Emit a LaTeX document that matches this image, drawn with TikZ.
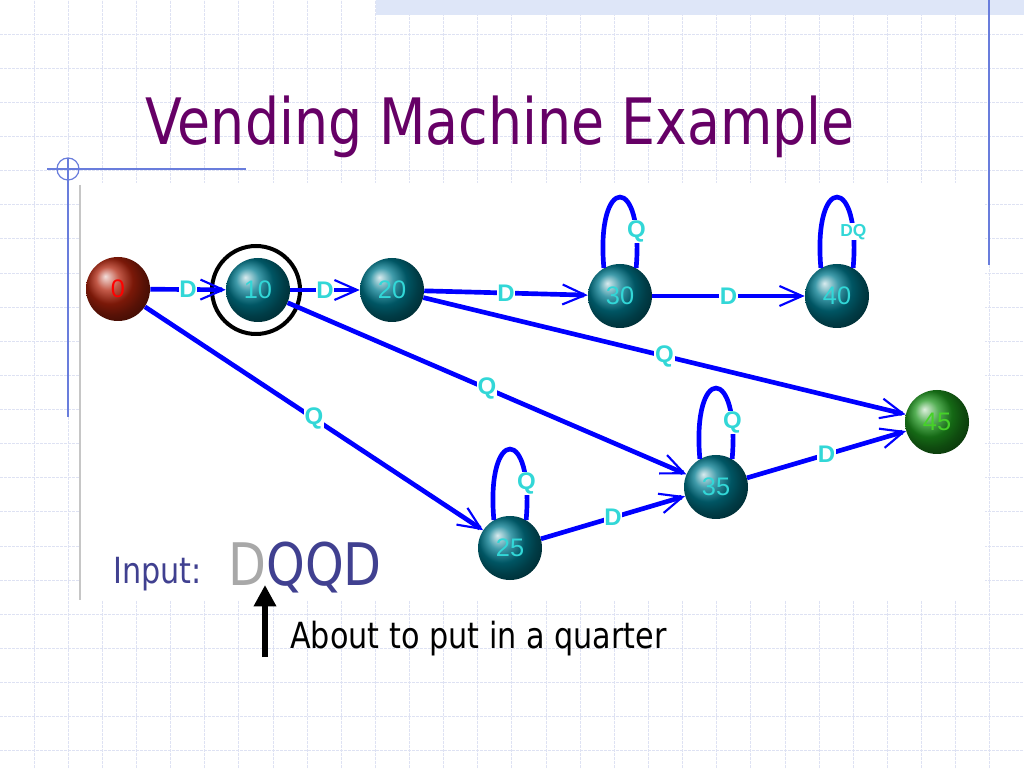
\documentclass[tikz,border=0pt]{standalone}
\usepackage{fontspec}
\setmainfont{DejaVu Sans}
\newfontfamily\tahoma[FakeStretch=0.84]{DejaVu Sans}
\newfontfamily\arialfont{Liberation Sans}
\usetikzlibrary{arrows.meta}
\definecolor{titlepurple}{RGB}{102,0,102}
\definecolor{inkblue}{RGB}{64,64,144}
\definecolor{inkgray}{RGB}{168,168,168}
\definecolor{gridline}{RGB}{222,226,243}
\definecolor{bandblue}{RGB}{222,230,248}
\definecolor{decoblue}{RGB}{105,125,220}
\definecolor{labelcyan}{RGB}{50,215,215}
\definecolor{tealball}{RGB}{0,122,142}
\definecolor{redball}{RGB}{175,35,12}
\definecolor{greenball}{RGB}{30,150,30}
\definecolor{greentext}{RGB}{70,210,40}

\begin{document}
\begin{tikzpicture}[x=0.75pt, y=0.75pt,
                    sphere/.style={circle, minimum size=48pt, inner sep=0pt, shading=ball, ball color=tealball, text=labelcyan, font=\arialfont\fontsize{19}{19}\selectfont},
                    coin/.style={draw=blue, line width=3.5pt, -{Straight Barb[length=17pt, width=15pt, line width=1.6pt]}},
                    selfloop/.style={draw=blue, line width=3.5pt},
                    lbl/.style={fill=white, inner sep=0.6pt, text=labelcyan, font=\arialfont\bfseries\fontsize{18}{18}\selectfont},
                    gridrule/.style={draw=gridline, line width=0.75pt, dash pattern=on 2pt off 1pt},
                    caption/.style={anchor=base west, inner sep=0pt}
                    ]
    \useasboundingbox (0,0) rectangle (1024,768);
    \fill[white] (0,0) rectangle (1024,768);
    \foreach \k in {1,...,29}
        \draw[gridrule] (34.13*\k,0) -- (34.13*\k,768);
    \foreach \k in {1,...,22}
        \draw[gridrule] (0,768-34.13*\k) -- (1024,768-34.13*\k);

    \fill[white] (80,168) rectangle (985,585);
    \fill[bandblue] (376,753) rectangle (1024,768);
    \draw[decoblue, line width=0.9pt] (989,768) -- (989,503);
    \draw[decoblue, line width=0.9pt] (47,599) -- (246,599);
    \draw[decoblue, line width=0.9pt] (68,610) -- (68,351);
    \draw[decoblue, line width=0.9pt] (68,599) circle (11);
    \draw[gray!45, line width=1.5pt] (80,583) -- (80,168);

    \node[caption, text=titlepurple, font=\tahoma\fontsize{48}{48}\selectfont] (title) at (145,623) {Vending Machine Example};

    \node[sphere, ball color=redball, text=red] (S0) at (118,479) {0};
    \node[sphere] (S10) at (258,478) {10};
    \node[sphere] (S20) at (392,478) {20};
    \node[sphere] (S30) at (620,472) {30};
    \node[sphere] (S40) at (837,472) {40};
    \node[sphere] (S25) at (510,220) {25};
    \node[sphere] (S35) at (716,281) {35};
    \node[sphere, ball color=greenball, text=greentext] (S45) at (937,346) {45};

    \node[draw, circle, line width=3pt, minimum size=66pt, inner sep=0pt] (ring) at (256,478) {};

    \draw[coin] (S0) -- node[lbl]{D} (S10);
    \draw[coin] (S10) -- node[lbl]{D} (S20);
    \draw[coin] (S20) -- node[lbl]{D} (S30);
    \draw[coin] (S30) -- node[lbl]{D} (S40);
    \draw[coin] (S0) -- node[lbl]{Q} (S25);
    \draw[coin] (S10) -- node[lbl]{Q} (S35);
    \draw[coin] (S20) -- node[lbl]{Q} (S45);
    \draw[coin] (S25) -- node[lbl]{D} (S35);
    \draw[coin] (S35) -- node[lbl]{D} (S45);

    \draw[selfloop] (S30.120) .. controls +(95:95) and +(85:95) .. node[lbl, pos=0.85]{Q} (S30.60);
    \draw[selfloop] (S40.120) .. controls +(95:95) and +(85:95) .. node[lbl, pos=0.85, font=\arialfont\bfseries\fontsize{13}{13}\selectfont]{DQ} (S40.60);
    \draw[selfloop] (S35.120) .. controls +(95:95) and +(85:95) .. node[lbl, pos=0.85]{Q} (S35.60);
    \draw[selfloop] (S25.120) .. controls +(95:95) and +(85:95) .. node[lbl, pos=0.85]{Q} (S25.60);

    \node[caption, text=inkblue, font=\tahoma\fontsize{27}{27}\selectfont] (input) at (113,185) {Input:};
    \node[caption, font=\tahoma\fontsize{44}{44}\selectfont] (word) at (228,183) {\textcolor{inkgray}{D}\textcolor{inkblue}{QQD}};
    \node[caption, font=\tahoma\fontsize{27}{27}\selectfont] (note) at (290,120) {About to put in a quarter};

    \coordinate (P) at (265,111);
    \coordinate (T) at (265,183);
    \draw[line width=5pt, -{Triangle[length=16pt, width=16pt]}] (P) -- (T);
\end{tikzpicture}
\end{document}
